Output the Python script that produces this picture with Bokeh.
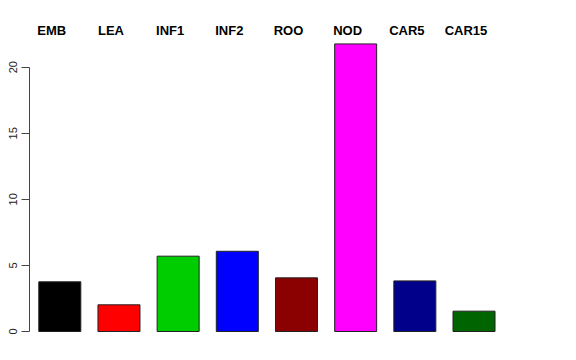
from bokeh.plotting import figure
from bokeh.models import ColumnDataSource, LinearAxis, FixedTicker, Range1d
from bokeh.core.properties import value
from bokeh.embed import file_html
from bokeh.resources import INLINE

categories = ["EMB", "LEA", "INF1", "INF2", "ROO", "NOD", "CAR5", "CAR15"]
values = [3.76, 2.02, 5.70, 6.07, 4.06, 21.76, 3.83, 1.54]
colors = ["#000000", "#FF0000", "#00CD00", "#0000FF", "#8B0000", "#FF00FF", "#00008B", "#006400"]
y_ticks = [0, 5, 10, 15, 20]

xs = list(range(len(categories)))
src = ColumnDataSource(dict(x=xs, top=values, color=colors, name=categories))

p = figure(width=576, height=360, output_backend="svg", toolbar_location=None,
           x_range=Range1d(-0.512, 8.563), y_range=Range1d(-0.68, 24.29),
           min_border_left=29, min_border_right=10, min_border_top=10, min_border_bottom=20)
p.xaxis.visible = False
p.yaxis.visible = False
p.xgrid.visible = False
p.ygrid.visible = False
p.outline_line_color = None
p.background_fill_color = "white"
p.border_fill_color = "white"

p.vbar(x="x", top="top", bottom=0, width=0.71, fill_color="color",
       line_color="#222222", line_width=1, source=src)

yax = LinearAxis(ticker=FixedTicker(ticks=y_ticks), bounds=(0, 20))
yax.axis_line_color = "#444444"
yax.major_tick_line_color = "#444444"
yax.major_tick_out = 8
yax.major_tick_in = 0
yax.minor_tick_line_color = None
yax.major_label_orientation = "vertical"
yax.major_label_standoff = 4
yax.major_label_text_font = "Liberation Sans"
yax.major_label_text_font_size = "11px"
yax.major_label_text_color = "#222222"
p.add_layout(yax, "left")

label_y = 22.78
src2 = ColumnDataSource(dict(x=xs, y=[label_y] * len(xs), name=categories))
p.text(x="x", y="y", text="name", source=src2, x_offset=-8,
       text_align="center", text_baseline="middle",
       text_font=value("Liberation Sans"), text_font_style="bold",
       text_font_size="13px", text_color="black")

open("out.html", "w").write(file_html(p, INLINE))
